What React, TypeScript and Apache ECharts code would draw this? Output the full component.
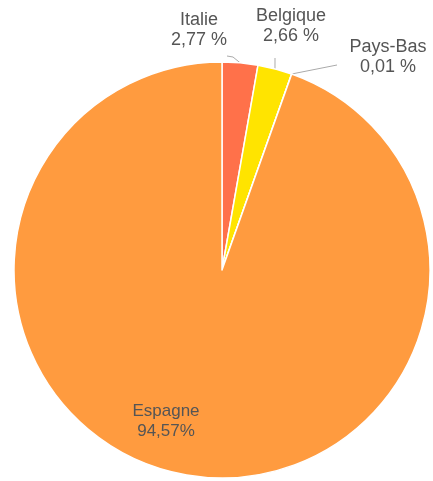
import React, { useEffect, useRef } from "react";
import * as echarts from "echarts";

const categories = ["Italie", "Belgique", "Pays-Bas", "Espagne"];
const values = [2.77, 2.66, 0.01, 94.57];
const percentLabels = ["2,77 %", "2,66 %", "0,01 %", "94,57%"];
const colors = ["#FF714A", "#FFE400", "#4A90E2", "#FF9B3F"];
// label centres (pixels)
const labelPos = [
  [199, 29],
  [291, 25],
  [388, 56],
  [166, 420],
];
// guide-line ends beyond the slice edge
const guideEnds: number[][][] = [
  [[233, 57], [227, 56]],
  [[275, 58]],
  [[337, 65]],
  [],
];

export default function App() {
  const ref = useRef<HTMLDivElement>(null);
  useEffect(() => {
    if (!ref.current) return;
    const chart = echarts.init(ref.current, null, { renderer: "svg" });
    const data = categories.map((name, i) => ({
      name,
      value: values[i],
      itemStyle: { color: colors[i] },
      label: {
        formatter: name + "\n" + percentLabels[i],
        position: i === 3 ? "inside" : "outside",
        fontSize: i === 3 ? 17 : 18,
      },
      labelLine: { show: i !== 3 },
    }));
    chart.setOption({
      animation: false,
      series: [
        {
          type: "pie",
          center: [222, 270],
          radius: 208,
          startAngle: 90,
          clockwise: true,
          avoidLabelOverlap: false,
          minAngle: 0,
          itemStyle: { borderColor: "#fff", borderWidth: 1.5 },
          label: {
            show: true,
            color: "#555",
            fontFamily: "Liberation Sans, Arial, sans-serif",
            lineHeight: 20,
            align: "center",
          },
          labelLine: {
            show: true,
            length: 6,
            length2: 4,
            lineStyle: { color: "#aaa", width: 1 },
          },
          emphasis: { disabled: true },
          labelLayout: (params: any) => {
            const i = params.dataIndex;
            const p = labelPos[i];
            const out: any = { x: p[0], y: p[1], align: "center", verticalAlign: "middle" };
            if (i !== 3 && params.labelLinePoints && params.labelLinePoints[0]) {
              const a = params.labelLinePoints[0];
              out.labelLinePoints = [[a[0], a[1]], ...guideEnds[i]];
            }
            return out;
          },
          data,
        },
      ],
    });
    return () => chart.dispose();
  }, []);
  return (
    <div
      ref={ref}
      style={{ position: "fixed", left: 0, top: 0, width: 433, height: 481 }}
    />
  );
}
